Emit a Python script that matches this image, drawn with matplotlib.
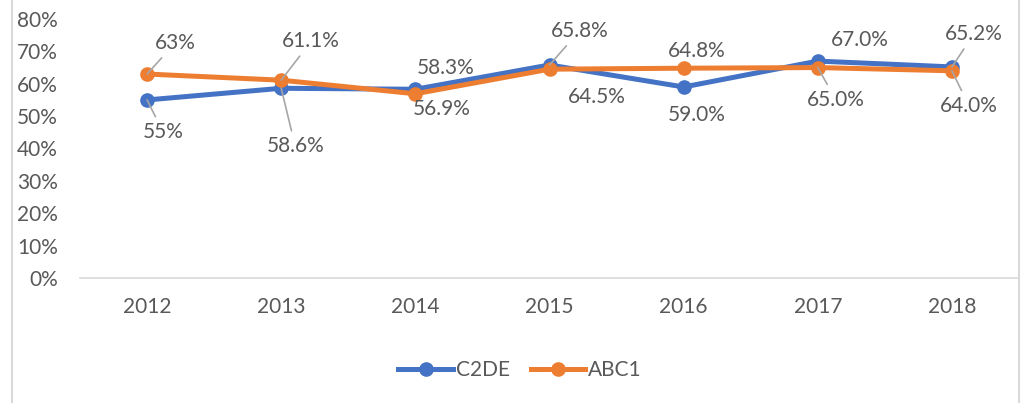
import matplotlib.pyplot as plt
from matplotlib.lines import Line2D

years = ['2012', '2013', '2014', '2015', '2016', '2017', '2018']
c2de = [55.0, 58.6, 58.3, 65.8, 59.0, 67.0, 65.2]
abc1 = [63.0, 61.1, 56.9, 64.5, 64.8, 65.0, 64.0]
c2de_labels = ['55%', '58.6%', '58.3%', '65.8%', '59.0%', '67.0%', '65.2%']
abc1_labels = ['63%', '61.1%', '56.9%', '64.5%', '64.8%', '65.0%', '64.0%']

# label offsets in pixels from the point, and whether a leader line is drawn
c2de_off = [(16, -32), (14, -58), (30, 21), (30, 34), (13, -28), (42, 21), (22, 33)]
c2de_lead = [True, True, False, True, False, False, True]
abc1_off = [(28, 31), (30, 39), (26, -15), (47, -28), (13, 17), (18, -32), (17, -35)]
abc1_lead = [True, True, False, False, False, True, True]

blue = '#4472C4'
orange = '#ED7D31'
txt = '#595959'
fs = 15
plt.rcParams['font.family'] = ['Lato', 'DejaVu Sans']

fig = plt.figure(figsize=(10.26, 4.03), dpi=100)
ax = fig.add_axes([80 / 1026, 1 - 278 / 403, 939 / 1026, 259 / 403])
x = range(len(years))
ax.plot(x, [v / 100 for v in c2de], color=blue, lw=3.6, marker='o', ms=9.5, label='C2DE', zorder=3)
ax.plot(x, [v / 100 for v in abc1], color=orange, lw=3.6, marker='o', ms=9.5, label='ABC1', zorder=4)

for vals, labs, offs, leads in [(c2de, c2de_labels, c2de_off, c2de_lead),
                                (abc1, abc1_labels, abc1_off, abc1_lead)]:
    for i in range(len(years)):
        dx, dy = offs[i]
        ax.annotate(labs[i], (i, vals[i] / 100), xytext=(dx, dy), textcoords='offset pixels',
                    ha='center', va='center', fontsize=fs, color=txt,
                    arrowprops=dict(arrowstyle='-', color='#A6A6A6', lw=1.2, shrinkA=2, shrinkB=0)
                    if leads[i] else None, zorder=5)

ax.set_xlim(-0.5, 6.5)
ax.set_ylim(0, 0.8)
ax.set_xticks(list(x))
ax.set_xticklabels(years)
ax.set_yticks([i / 10 for i in range(9)])
ax.set_yticklabels([f'{i * 10}%' for i in range(9)])
ax.tick_params(length=0, labelsize=fs, colors=txt)
ax.tick_params(axis='x', pad=14)
ax.tick_params(axis='y', pad=16)
for s in ['top', 'right', 'left']:
    ax.spines[s].set_visible(False)
ax.spines['bottom'].set_color('#D9D9D9')
ax.spines['bottom'].set_linewidth(1.2)

fig.legend(loc='center', bbox_to_anchor=(520 / 1026, 1 - 370 / 403), ncol=2, frameon=False,
           fontsize=fs, labelcolor=txt, handlelength=2.6, handletextpad=0.15, columnspacing=1.0)

fig.add_artist(Line2D([12 / 1026, 12 / 1026], [0, 1], color='#D9D9D9', lw=1.5))
fig.add_artist(Line2D([1019 / 1026, 1019 / 1026], [0, 1], color='#D9D9D9', lw=1.5))

fig.savefig('out.png', dpi=100)
